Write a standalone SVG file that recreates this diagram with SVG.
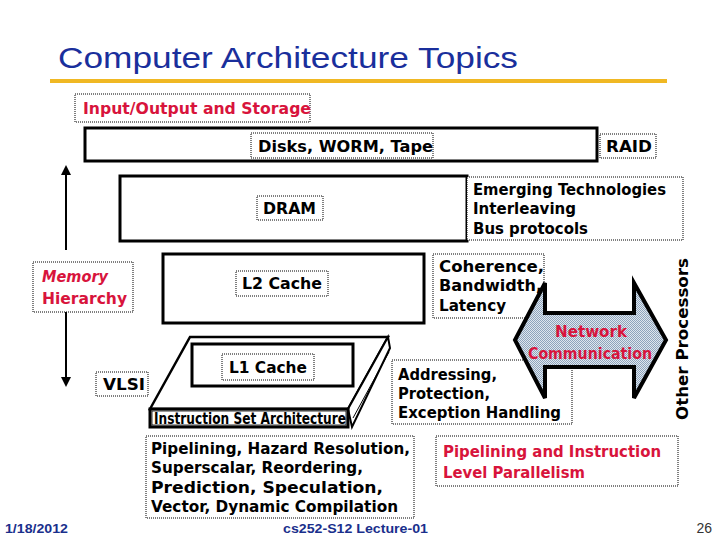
<svg xmlns="http://www.w3.org/2000/svg" width="720" height="540" viewBox="0 0 720 540">
<style>
.box{fill:#fff;stroke:#000;stroke-width:3}
.lbl{fill:#fff;stroke:#000;stroke-width:1;stroke-dasharray:1 1}
.t{font-family:"DejaVu Sans","Liberation Sans",sans-serif;font-weight:bold;font-size:16px;fill:#000}
.r{fill:#d8143c}
.ft{font-family:"Liberation Sans",Arial,sans-serif;font-weight:bold;font-size:13px;fill:#1a2f8c}
</style>
<defs>
<marker id="ah" viewBox="0 0 10 10" refX="5" refY="5" markerWidth="5" markerHeight="5" orient="auto-start-reverse"><path d="M0,0 L10,5 L0,10 z" fill="#000"/></marker>
<pattern id="dots" width="2" height="2" patternUnits="userSpaceOnUse"><rect width="2" height="2" fill="#dfe6ee"/><rect width="1" height="1" fill="#8ea4bc"/><rect x="1" y="1" width="1" height="1" fill="#8ea4bc"/></pattern>
</defs>
<rect width="720" height="540" fill="#fff"/>
<g id="title">
<text x="58" y="68" font-family="'Liberation Sans',Arial,sans-serif" font-size="29" fill="#1a2f9c" textLength="460" lengthAdjust="spacingAndGlyphs">Computer Architecture Topics</text>
<rect x="50" y="79" width="617" height="4" fill="#f0b823"/>
</g>
<g id="connectors">
<line x1="66" y1="250" x2="66" y2="170" stroke="#000" stroke-width="2" marker-end="url(#ah)"/>
<line x1="66" y1="300" x2="66" y2="382" stroke="#000" stroke-width="2" marker-end="url(#ah)"/>
</g>
<g id="io">
<rect class="lbl" x="75" y="94" width="235" height="28"/>
<text class="t r" x="83" y="114" font-size="17" textLength="228" lengthAdjust="spacingAndGlyphs">Input/Output and Storage</text>
</g>
<g id="disks">
<rect class="box" x="85" y="128" width="512" height="33"/>
<rect class="lbl" x="251" y="133" width="182" height="25"/>
<text class="t" x="258" y="152" textLength="175" lengthAdjust="spacingAndGlyphs">Disks, WORM, Tape</text>
</g>
<g id="raid">
<rect class="lbl" x="600" y="134" width="56" height="24"/>
<text class="t" x="606" y="152" textLength="46" lengthAdjust="spacingAndGlyphs">RAID</text>
</g>
<g id="dram">
<rect class="box" x="120" y="176" width="347" height="65"/>
<rect class="lbl" x="257" y="196" width="66" height="24"/>
<text class="t" x="263" y="214" textLength="53" lengthAdjust="spacingAndGlyphs">DRAM</text>
</g>
<g id="emerging">
<rect class="lbl" x="467" y="177" width="216" height="63"/>
<text class="t" x="473" y="195" textLength="193" lengthAdjust="spacingAndGlyphs">Emerging Technologies</text>
<text class="t" x="473" y="214" textLength="103" lengthAdjust="spacingAndGlyphs">Interleaving</text>
<text class="t" x="473" y="234" textLength="115" lengthAdjust="spacingAndGlyphs">Bus protocols</text>
</g>
<g id="l2">
<rect class="box" x="163" y="254" width="261" height="69"/>
<rect class="lbl" x="236" y="271" width="92" height="25"/>
<text class="t" x="242" y="289" textLength="80" lengthAdjust="spacingAndGlyphs">L2 Cache</text>
</g>
<g id="coherence">
<rect class="lbl" x="433" y="254" width="111" height="64"/>
<text class="t" x="439" y="272" textLength="105" lengthAdjust="spacingAndGlyphs">Coherence,</text>
<text class="t" x="439" y="291" textLength="103" lengthAdjust="spacingAndGlyphs">Bandwidth,</text>
<text class="t" x="439" y="311" textLength="67" lengthAdjust="spacingAndGlyphs">Latency</text>
</g>
<g id="memhier">
<rect class="lbl" x="33" y="262" width="100" height="50"/>
<text class="t r" x="42" y="282" font-style="italic" textLength="66" lengthAdjust="spacingAndGlyphs">Memory</text>
<text class="t r" x="42" y="304" textLength="85" lengthAdjust="spacingAndGlyphs">Hierarchy</text>
</g>
<g id="vlsi">
<rect class="lbl" x="96" y="372" width="52" height="24"/>
<text class="t" x="103" y="390" textLength="42" lengthAdjust="spacingAndGlyphs">VLSI</text>
</g>
<g id="isa">
<polygon points="150,409 190,337 388,337 348,409" fill="#fff" stroke="#000" stroke-width="2.5"/>
<polygon points="348,409 388,337 390,348 352,427" fill="#fff" stroke="#000" stroke-width="2"/>
<line x1="353" y1="418" x2="389" y2="352" stroke="#000" stroke-width="1"/>
<rect x="150" y="409" width="198" height="18" fill="#fff" stroke="#000" stroke-width="3"/>
<rect x="152" y="411" width="194" height="14" fill="#fff" stroke="#000" stroke-width="0.8"/>
<text class="t" x="154" y="424" font-size="13" textLength="192" lengthAdjust="spacingAndGlyphs">Instruction Set Architecture</text>
</g>
<g id="l1">
<rect class="box" x="192" y="344" width="161" height="42"/>
<rect class="lbl" x="222" y="354" width="92" height="26"/>
<text class="t" x="229" y="373" textLength="78" lengthAdjust="spacingAndGlyphs">L1 Cache</text>
</g>
<g id="addressing">
<rect class="lbl" x="392" y="360" width="180" height="64"/>
<text class="t" x="398" y="380" textLength="99" lengthAdjust="spacingAndGlyphs">Addressing,</text>
<text class="t" x="398" y="399" textLength="92" lengthAdjust="spacingAndGlyphs">Protection,</text>
<text class="t" x="398" y="418" textLength="163" lengthAdjust="spacingAndGlyphs">Exception Handling</text>
</g>
<g id="network">
<polygon points="515,340 545,283 545,313 634,313 634,283 666,340 634,398 634,367 545,367 545,398" fill="url(#dots)" stroke="#000" stroke-width="4" stroke-linejoin="miter"/>
<text class="t r" x="591" y="337" text-anchor="middle" textLength="72" lengthAdjust="spacingAndGlyphs">Network</text>
<text class="t r" x="590" y="359" text-anchor="middle" textLength="124" lengthAdjust="spacingAndGlyphs">Communication</text>
</g>
<g id="other">
<text class="t" transform="translate(688,339) rotate(-90)" text-anchor="middle" textLength="162" lengthAdjust="spacingAndGlyphs">Other Processors</text>
</g>
<g id="pipelining">
<rect class="lbl" x="146" y="436" width="268" height="82"/>
<text class="t" x="151" y="454" textLength="259" lengthAdjust="spacingAndGlyphs">Pipelining, Hazard Resolution,</text>
<text class="t" x="151" y="473" textLength="212" lengthAdjust="spacingAndGlyphs">Superscalar, Reordering,</text>
<text class="t" x="151" y="493" textLength="232" lengthAdjust="spacingAndGlyphs">Prediction, Speculation,</text>
<text class="t" x="151" y="512" textLength="247" lengthAdjust="spacingAndGlyphs">Vector, Dynamic Compilation</text>
</g>
<g id="ilp">
<rect class="lbl" x="436" y="436" width="242" height="50"/>
<text class="t r" x="443" y="457" textLength="218" lengthAdjust="spacingAndGlyphs">Pipelining and Instruction</text>
<text class="t r" x="443" y="478" textLength="142" lengthAdjust="spacingAndGlyphs">Level Parallelism</text>
</g>
<g id="footer">
<text class="ft" x="5" y="533" textLength="63" lengthAdjust="spacingAndGlyphs">1/18/2012</text>
<text class="ft" x="283" y="533" textLength="145" lengthAdjust="spacingAndGlyphs">cs252-S12 Lecture-01</text>
<text x="712" y="533" text-anchor="end" font-family="'Liberation Sans',Arial,sans-serif" font-size="14" fill="#333">26</text>
</g>
</svg>
